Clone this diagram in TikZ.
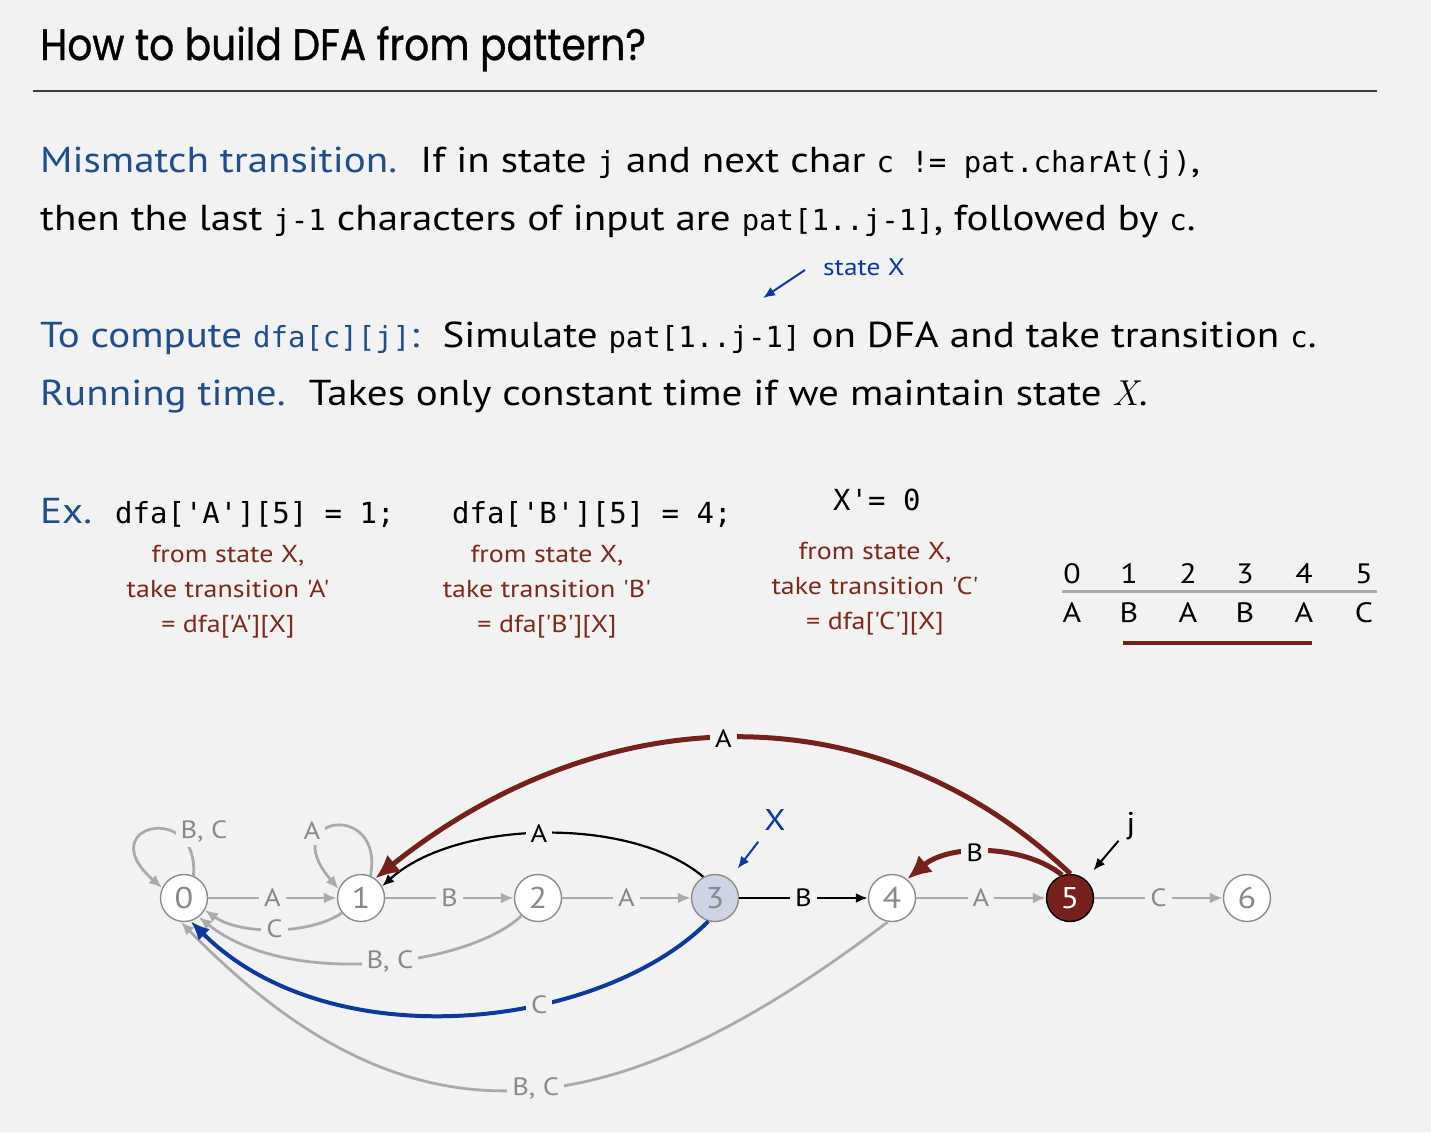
\documentclass[tikz,border=0pt]{standalone}
\usepackage{fontspec}
\usetikzlibrary{arrows.meta}
\setmainfont{PT Sans}[Ligatures=TeXOff, FakeStretch=1.14]
\newfontfamily\monof{DejaVu Sans Mono}[Ligatures=TeXOff]
\newfontfamily\titlef{Poppins}[FakeStretch=0.89, FakeBold=0.8]
\newfontfamily\lmrf{Latin Modern Roman}
\definecolor{bg}{HTML}{F2F2F2}
\definecolor{hblue}{HTML}{1F4E8A}
\definecolor{dred}{HTML}{7C2A1C}
\definecolor{ered}{HTML}{76201C}
\definecolor{eblue}{HTML}{0B3A9C}
\definecolor{egray}{HTML}{AAAAAA}
\definecolor{tgray}{HTML}{898989}
\definecolor{sgray}{HTML}{8C8C8C}
\definecolor{fill3}{HTML}{CDD5E4}
\definecolor{rulec}{HTML}{3C3C3C}
\newcommand\bodyfont{\fontsize{36}{40}\selectfont}
\newcommand\mt[1]{{\monof\fontsize{29}{32}\selectfont #1}}
\begin{document}
\begin{tikzpicture}[x=1pt,y=-1pt,
  txt/.style={anchor=base west, inner sep=0pt, font=\bodyfont},
  desc/.style={anchor=base, inner sep=0pt, font=\fontsize{24.5}{28}\selectfont, text=dred},
  tab/.style={anchor=base, inner sep=0pt, font=\fontsize{28}{30}\selectfont},
  st/.style={circle, draw=sgray, line width=1.4pt, fill=white, minimum size=47pt, inner sep=0pt, font=\fontsize{30}{32}\selectfont, text=tgray},
  lab/.style={fill=bg, inner sep=5pt, font=\fontsize{25}{28}\selectfont, text=tgray},
  gedge/.style={draw=egray, line width=2.8pt, -{Latex[length=13pt,width=11pt]}},
  bedge/.style={draw=black, line width=2.2pt, -{Latex[length=12pt,width=10pt]}},
  redge/.style={draw=ered, line width=5pt, -{Latex[length=24pt,width=22pt]}},
  bluedge/.style={draw=eblue, line width=4pt, -{Latex[length=19pt,width=16pt]}},
  ptr/.style={line width=2pt, -{Latex[length=12pt,width=10pt]}}]
\fill[bg] (0,0) rectangle (1431,1132);
\useasboundingbox (0,0) rectangle (1431,1132);

% title
\node[txt] (title) at (40,60) {\titlef\fontsize{44}{48}\selectfont How to build DFA from pattern?};
\draw[rulec, line width=2pt] (33,91) -- (1377,91);

% text lines
\node[txt] (l1) at (40,172) {\textcolor{hblue}{Mismatch transition.}\hspace{0.65em}If in state \mt{j} and next char \mt{c != pat.charAt(j)},};
\node[txt] (l2) at (40,230) {then the last \mt{j-1} characters of input are \mt{pat[1..j-1]}, followed by \mt{c}.};
\node[txt, font=\fontsize{24}{28}\selectfont, text=eblue] (sx) at (823,275) {state X};
\coordinate (sxs) at (805,270);
\coordinate (sxe) at (763,298);
\draw[ptr, eblue] (sxs) -- (sxe);
\node[txt] (l3) at (40,347) {\textcolor{hblue}{To compute \mt{dfa[c][j]}:}\hspace{0.65em}Simulate \mt{pat[1..j-1]} on DFA and take transition \mt{c}.};
\node[txt] (l4) at (40,405) {\textcolor{hblue}{Running time.}\hspace{0.65em}Takes only constant time if we maintain state {\lmrf\itshape X}.};

% examples
\node[txt, text=hblue] (ex) at (40,523) {Ex.};
\node[txt] (e1) at (115,523) {\mt{dfa['A'][5] = 1;}};
\node[txt] (e2) at (452,523) {\mt{dfa['B'][5] = 4;}};
\node[txt] (e3) at (833,510) {\mt{X'= 0}};

\node[desc] (a1) at (228,562) {from state X,};
\node[desc] (a2) at (228,597) {take transition 'A'};
\node[desc] (a3) at (228,632) {= dfa['A'][X]};
\node[desc] (b1) at (547,562) {from state X,};
\node[desc] (b2) at (547,597) {take transition 'B'};
\node[desc] (b3) at (547,632) {= dfa['B'][X]};
\node[desc] (c1) at (875,559) {from state X,};
\node[desc] (c2) at (875,594) {take transition 'C'};
\node[desc] (c3) at (875,629) {= dfa['C'][X]};

% pattern table
\foreach \i/\x/\c in {0/1072/A,1/1129/B,2/1188/A,3/1245/B,4/1304/A,5/1364/C}{
  \node[tab] (d\i) at (\x,583) {\i};
  \node[tab] (p\i) at (\x,622) {\c};
}
\draw[egray, line width=3pt] (1062,591) -- (1377,591);
\draw[ered, line width=3.5pt] (1123,643) -- (1312,643);

% states
\node[st] (n0) at (184,898) {0};
\node[st] (n1) at (361,898) {1};
\node[st] (n2) at (538,898) {2};
\node[st, fill=fill3] (n3) at (715,898) {3};
\node[st] (n4) at (892,898) {4};
\node[st, fill=ered, draw=black, text=white] (n5) at (1070,898) {5};
\node[st] (n6) at (1247,898) {6};

% gray transitions
\draw[gedge] (n0) -- node[lab]{A} (n1);
\draw[gedge] (n1) -- node[lab]{B} (n2);
\draw[gedge] (n2) -- node[lab]{A} (n3);
\draw[gedge] (n4) -- node[lab]{A} (n5);
\draw[gedge] (n5) -- node[lab]{C} (n6);
\draw[gedge] (n0.67) .. controls (200,800) and (90,825) .. (n0.155);
\node[lab] (l00) at (204,831) {B, C};
\draw[gedge] (n1.67) .. controls (385,800) and (275,815) .. (n1.158);
\node[lab] (l11) at (312,831) {A};
\draw[gedge] (n1.218) .. controls (310,935) and (240,935) .. (n0.-30) node[lab, pos=0.5]{C};
\draw[gedge] (n2.227) .. controls (470,965) and (290,990) .. (n0.-52) node[lab, pos=0.46]{B, C};
\draw[gedge] (n4.-100) .. controls (608,1134) and (410,1157) .. (n0.-97) node[lab, pos=0.47]{B, C};

% black transitions
\draw[bedge, line width=2.8pt] (n3) -- node[lab, text=black]{B} (n4);
\draw[bedge] (n3.119) .. controls (630,815) and (455,820) .. (n1.29) node[lab, text=black, pos=0.51]{A};

% blue transition
\draw[bluedge] (n3.-106) .. controls (600,1030) and (330,1060) .. (n0.-74) node[lab, pos=0.365]{C};

% red transitions
\draw[redge] (n5.89) .. controls (870,684) and (597,701) .. (n1.54) node[lab, text=black, pos=0.51]{A};
\draw[redge] (n5.109) .. controls (1025,845) and (950,843) .. (n4.51) node[lab, text=black, pos=0.57]{B};

% pointers
\node[inner sep=0pt, font=\fontsize{30}{32}\selectfont, text=eblue] (xl) at (775,820) {X};
\draw[ptr, eblue, shorten <=14pt, shorten >=13pt] (xl) -- (n3);
\node[inner sep=0pt, font=\fontsize{30}{32}\selectfont] (jl) at (1131,826) {j};
\draw[ptr, shorten <=12pt, shorten >=12pt] (jl) -- (n5);
\end{tikzpicture}
\end{document}
